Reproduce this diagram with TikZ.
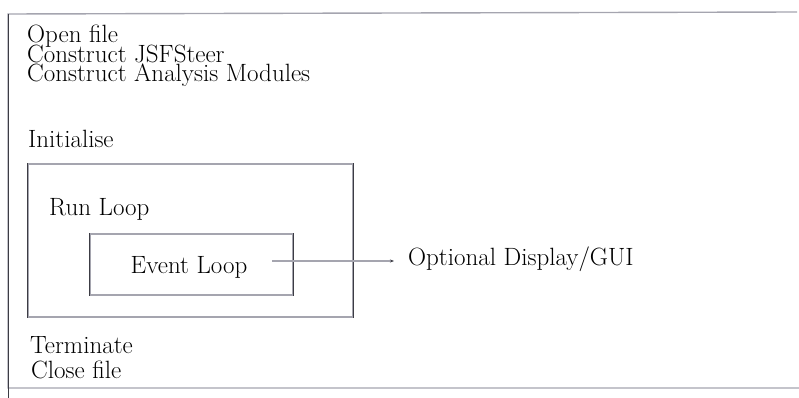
\documentclass[tikz,border=0pt]{standalone}
\usetikzlibrary{arrows.meta}
\definecolor{scanh}{RGB}{165,165,175}
\definecolor{scanv}{RGB}{60,60,68}
\tikzset{loopfig/.style={x=1pt,y=-1pt,font=\fontsize{25}{19}\selectfont},
  txt/.style={anchor=base west,inner sep=0pt},
  loopbox/.style={draw=scanh,line width=1.4pt,rectangle,inner sep=0pt},
  vedge/.style={draw=scanv,line width=1pt},
  flow/.style={draw=scanh,line width=1.2pt,-{Stealth[length=4pt,width=3pt,color=scanv]}}}

\begin{document}
\begin{tikzpicture}[loopfig]
    \useasboundingbox (0,0) rectangle (799,398);
    % outer frame, right side is off the page
    \draw[scanh,line width=1.4pt] (797,12) -- (8,14) -- (8,388) -- (799,388);
    \draw[vedge] (8,14) -- (8,398);
    \foreach \txt [count=\i] in {Open file,Construct JSFSteer,Construct Analysis Modules}
      \node[txt] (head\i) at (27,{43+19.5*(\i-1)}) {\txt};
    \node[txt] (init) at (28,148) {Initialise};
    \node[loopbox,minimum width=325pt,minimum height=153pt] (run) at (190.5,240.5) {};
    \draw[vedge] (run.north west) -- (run.south west);
    \draw[vedge] (run.north east) -- (run.south east);
    \node[txt] (runtxt) at (49,215) {Run Loop};
    \node[loopbox,minimum width=203pt,minimum height=61pt] (evt) at (191.5,264.5) {};
    \draw[vedge] (evt.north west) -- (evt.south west);
    \draw[vedge] (evt.north east) -- (evt.south east);
    \node[txt,anchor=base] (evttxt) at (189,273) {Event Loop};
    \node[txt] (gui) at (408,265) {Optional Display/GUI};
    \coordinate (tap) at (272,261);
    \draw[flow] (tap) -- ([xshift=-14pt]tap -| gui.west);
    \node[txt] (term) at (30,353) {Terminate};
    \node[txt] (close) at (31,378) {Close file};
\end{tikzpicture}
\end{document}
